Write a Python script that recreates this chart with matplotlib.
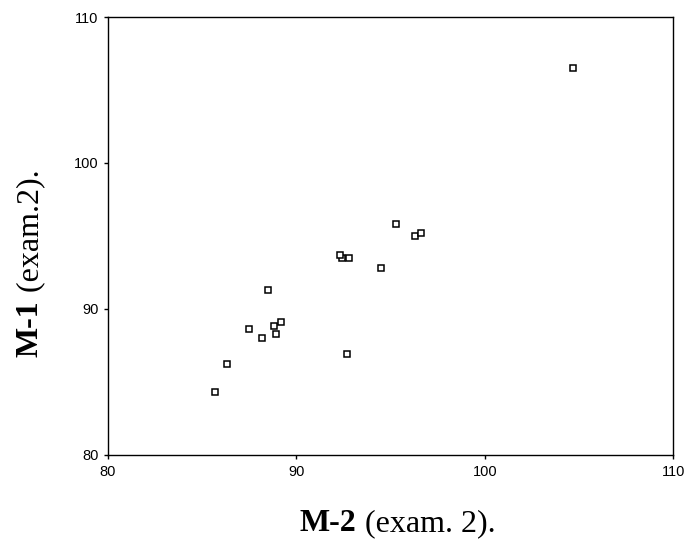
"""Scatter of M-1 against M-2 scores (exam 2)."""
import matplotlib
matplotlib.use("Agg")
import matplotlib.pyplot as plt

# M-2 (x) and M-1 (y) scores
m2 = [85.7, 86.3, 87.5, 88.2, 88.8, 88.9, 89.2, 88.5, 92.4, 92.3,
      92.8, 92.7, 94.5, 95.3, 96.3, 96.6, 104.7]
m1 = [84.3, 86.2, 88.6, 88.0, 88.8, 88.3, 89.1, 91.3, 93.5, 93.7,
      93.5, 86.9, 92.8, 95.8, 95.0, 95.2, 106.5]

ticks = [80, 90, 100, 110]
tick_labels = ["80", "90", "100", "110"]

SERIF = ["Liberation Serif", "DejaVu Serif"]
SANS = ["Liberation Sans", "DejaVu Sans"]
FS = 23

fig = plt.figure(figsize=(6.9, 5.5), dpi=100)
ax = fig.add_axes([0.1565, 0.173, 0.819, 0.796])

ax.plot(m2, m1, ls="none", marker="s", ms=5, mfc="white", mec="black", mew=1.1)

ax.set_xlim(80, 110)
ax.set_ylim(80, 110)
ax.set_xticks(ticks)
ax.set_yticks(ticks)
ax.set_xticklabels(tick_labels, family=SANS, fontsize=10.5)
ax.set_yticklabels(tick_labels, family=SANS, fontsize=10.5)
ax.tick_params(direction="out", length=3, width=1, pad=4)
for sp in ax.spines.values():
    sp.set_linewidth(1)

# axis titles: bold code then regular text, laid out piece by piece
fig.canvas.draw()
r = fig.canvas.get_renderer()

# x title
x0, y0 = 300 / 690, 1 - 531 / 550
t1 = fig.text(x0, y0, "M-2", family=SERIF, fontsize=FS, weight="bold",
              ha="left", va="baseline")
bb = t1.get_window_extent(r)
fig.text(x0 + bb.width / fig.bbox.width, y0, " (exam. 2).", family=SERIF,
         fontsize=FS, ha="left", va="baseline")

# y title, rotated, baseline on the right
x0, y0 = 38 / 690, 1 - 357 / 550
t1 = fig.text(x0, y0, "M-1", family=SERIF, fontsize=FS, weight="bold",
              rotation=90, ha="left", va="baseline", rotation_mode="anchor")
bb = t1.get_window_extent(r)
fig.text(x0, y0 + bb.height / fig.bbox.height, " (exam.2).", family=SERIF,
         fontsize=FS, rotation=90, ha="left", va="baseline", rotation_mode="anchor")

fig.savefig("out.png", dpi=100, facecolor="white")
